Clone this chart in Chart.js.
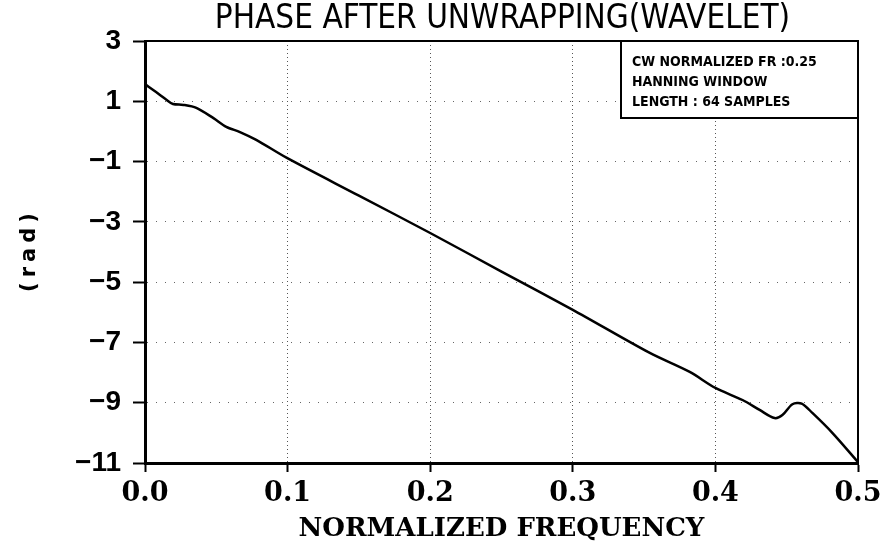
<!DOCTYPE html>
<html>
<head>
<meta charset="utf-8">
<script src="https://cdn.jsdelivr.net/npm/chart.js@4.4.1/dist/chart.umd.min.js"></script>
<style>
  html, body { margin: 0; padding: 0; background: #fff; }
  #wrap { width: 890px; height: 553px; position: relative; }
</style>
</head>
<body>
<div id="wrap"><canvas id="phaseChart" width="890" height="553"></canvas></div>
<script>
// phase values (normalized frequency -> rad)
const freq = [0, 0.005, 0.0105, 0.015, 0.0196, 0.027, 0.036, 0.048, 0.057, 0.0666, 0.078, 0.0995,
    0.15, 0.2, 0.25, 0.3, 0.354, 0.382, 0.4, 0.419, 0.431, 0.4415, 0.447, 0.454, 0.4605, 0.468, 0.482, 0.5];
const phase = [1.57, 1.4, 1.21, 1.05, 0.91, 0.88, 0.78, 0.44, 0.15, -0.02, -0.28, -0.88,
    -2.13, -3.37, -4.65, -5.92, -7.35, -7.98, -8.51, -8.91, -9.24, -9.51, -9.41, -9.05, -9.03, -9.34, -10.0, -10.97];

const xTicks = [0, 0.1, 0.2, 0.3, 0.4, 0.5];
const yTicks = [3, 1, -1, -3, -5, -7, -9, -11];

const chartTitle = 'PHASE AFTER UNWRAPPING(WAVELET)';
const xTitle = 'NORMALIZED FREQUENCY';
const yTitle = '(rad)';
const noteLines = ['CW NORMALIZED FR :0.25', 'HANNING WINDOW', 'LENGTH : 64 SAMPLES'];

const points = freq.map((f, i) => ({ x: f, y: phase[i] }));

// title, frame and note box drawn by hand
const decorations = {
    id: 'decorations',
    afterDraw(chart) {
        const ctx = chart.ctx;
        const a = chart.chartArea;
        ctx.save();
        // top + right frame
        ctx.strokeStyle = '#000';
        ctx.lineWidth = 2;
        ctx.beginPath();
        ctx.moveTo(a.left, a.top);
        ctx.lineTo(a.right, a.top);
        ctx.lineTo(a.right, a.bottom);
        ctx.stroke();

        // title
        ctx.fillStyle = '#000';
        ctx.font = '33px "DejaVu Sans Condensed", "Liberation Sans Narrow", "Liberation Sans"';
        ctx.textAlign = 'center';
        ctx.textBaseline = 'middle';
        ctx.fillText(chartTitle, (a.left + a.right) / 2 + 1, 19);

        // x title
        ctx.font = 'bold 26px "DejaVu Serif"';
        ctx.fillText(xTitle, (a.left + a.right) / 2, 529);

        // y title
        ctx.save();
        ctx.translate(30, 250);
        ctx.rotate(-Math.PI / 2);
        ctx.font = 'bold 21px "DejaVu Sans"';
        ctx.letterSpacing = '5px';
        ctx.fillText(yTitle, 0, 0);
        ctx.restore();

        // note box
        const bx = 621, by = a.top, bw = a.right - 621, bh = 77;
        ctx.fillStyle = '#fff';
        ctx.fillRect(bx, by, bw, bh);
        ctx.lineWidth = 2;
        ctx.strokeRect(bx, by, bw, bh);
        ctx.fillStyle = '#000';
        ctx.font = 'bold 14px "DejaVu Sans Condensed", "Liberation Sans"';
        ctx.textAlign = 'left';
        noteLines.forEach((t, i) => ctx.fillText(t, bx + 11, by + 21 + i * 20));
        ctx.restore();
    }
};

const ctx = document.getElementById('phaseChart').getContext('2d');
const phaseChart = new Chart(ctx, {
    type: 'line',
    data: {
        datasets: [{
            data: points,
            borderColor: '#000',
            borderWidth: 2.5,
            pointRadius: 0,
            fill: false,
            tension: 0.3
        }]
    },
    options: {
        responsive: false,
        animation: false,
        layout: { padding: { left: 0, right: 32, top: 41, bottom: 0 } },
        plugins: {
            legend: { display: false },
            tooltip: { enabled: false }
        },
        scales: {
            x: {
                type: 'linear',
                min: 0,
                max: 0.5,
                afterFit: (scale) => { scale.height = 90; },
                afterBuildTicks: (scale) => { scale.ticks = xTicks.map(v => ({ value: v })); },
                ticks: {
                    color: '#000',
                    font: { family: '"DejaVu Serif"', size: 27, weight: 'bold' },
                    padding: 6,
                    maxRotation: 0,
                    callback: (v) => Number(v).toFixed(1)
                },
                grid: {
                    color: '#555',
                    lineWidth: 1,
                    tickLength: 9,
                    tickColor: '#000',
                    tickWidth: 2,
                    tickBorderDash: []
                },
                border: { color: '#000', width: 3, dash: [1, 3] }
            },
            y: {
                min: -11,
                max: 3,
                afterFit: (scale) => { scale.width = 145; },
                afterBuildTicks: (scale) => { scale.ticks = yTicks.map(v => ({ value: v })); },
                ticks: {
                    color: '#000',
                    font: { family: '"Liberation Sans"', size: 28, weight: 'bold' },
                    padding: 12,
                    callback: (v) => String(v).replace('-', '\u2212')
                },
                grid: {
                    color: '#666',
                    lineWidth: 1,
                    tickLength: 12,
                    tickColor: '#000',
                    tickWidth: 2,
                    tickBorderDash: []
                },
                border: { color: '#000', width: 3, dash: [1, 8] }
            }
        }
    },
    plugins: [decorations]
});
</script>
</body>
</html>
